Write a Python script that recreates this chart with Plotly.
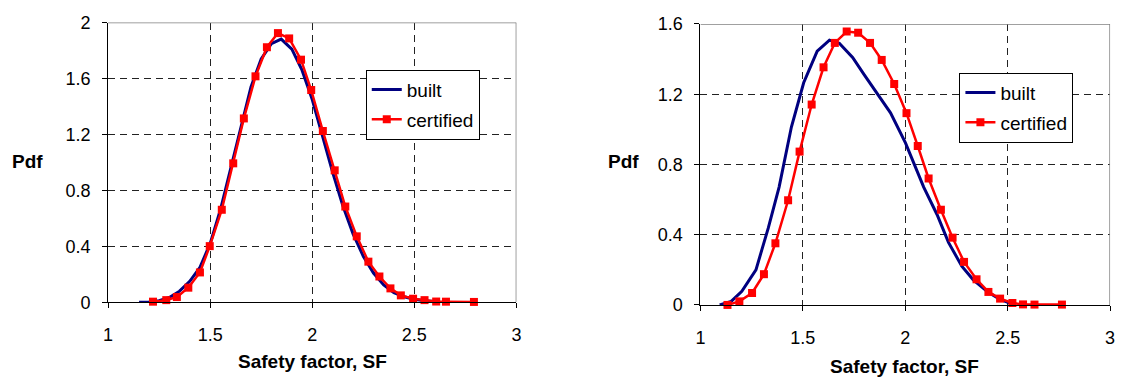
import plotly.graph_objects as go

# ---------------- data ----------------
left_built_x = [1.152, 1.200, 1.250, 1.300, 1.350, 1.400, 1.450, 1.500, 1.550, 1.600,
                1.650, 1.700, 1.750, 1.800, 1.848, 1.900, 1.950, 2.000, 2.050, 2.100,
                2.150, 2.200, 2.250, 2.300, 2.350, 2.400, 2.450, 2.500, 2.550, 2.600]
left_built_y = [0.000, 0.003, 0.012, 0.035, 0.080, 0.150, 0.250, 0.420, 0.660, 0.950,
                1.260, 1.540, 1.740, 1.850, 1.882, 1.810, 1.660, 1.450, 1.190, 0.930,
                0.690, 0.490, 0.330, 0.210, 0.125, 0.070, 0.040, 0.022, 0.012, 0.006]

left_cert_x = [1.220, 1.285, 1.337, 1.393, 1.450, 1.498, 1.557, 1.613, 1.665, 1.722,
               1.778, 1.832, 1.887, 1.945, 1.995, 2.052, 2.110, 2.162, 2.218, 2.275,
               2.329, 2.383, 2.434, 2.494, 2.550, 2.607, 2.655, 2.792]
left_cert_y = [0.005, 0.016, 0.038, 0.105, 0.214, 0.402, 0.662, 0.994, 1.315, 1.616,
               1.824, 1.925, 1.887, 1.735, 1.518, 1.225, 0.944, 0.685, 0.472, 0.291,
               0.185, 0.100, 0.050, 0.026, 0.016, 0.006, 0.005, 0.003]

right_built_x = [1.094, 1.150, 1.202, 1.271, 1.331, 1.384, 1.444, 1.504, 1.570, 1.630,
                 1.678, 1.743, 1.800, 1.859, 1.928, 2.001, 2.090, 2.155, 2.211, 2.276,
                 2.332, 2.405, 2.461, 2.510]
right_built_y = [0.000, 0.020, 0.077, 0.200, 0.437, 0.671, 1.013, 1.265, 1.445, 1.508,
                 1.490, 1.409, 1.310, 1.208, 1.094, 0.923, 0.671, 0.515, 0.356, 0.221,
                 0.143, 0.072, 0.033, 0.010]

right_cert_x = [1.132, 1.190, 1.252, 1.310, 1.366, 1.428, 1.484, 1.543, 1.601, 1.656,
                1.714, 1.770, 1.828, 1.885, 1.946, 2.006, 2.061, 2.114, 2.174, 2.231,
                2.287, 2.348, 2.406, 2.463, 2.523, 2.575, 2.631, 2.765]
right_cert_y = [0.000, 0.020, 0.068, 0.175, 0.351, 0.596, 0.873, 1.141, 1.353, 1.492,
                1.557, 1.550, 1.492, 1.395, 1.258, 1.092, 0.905, 0.720, 0.542, 0.383,
                0.245, 0.146, 0.074, 0.036, 0.011, 0.003, 0.002, 0.002]

x_ticks = [1, 1.5, 2, 2.5, 3]
x_ticktext = ["1", "1.5", "2", "2.5", "3"]
left_y_ticks = [0, 0.4, 0.8, 1.2, 1.6, 2]
left_y_ticktext = ["0", "0.4", "0.8", "1.2", "1.6", "2"]
right_y_ticks = [0, 0.4, 0.8, 1.2, 1.6]
right_y_ticktext = ["0", "0.4", "0.8", "1.2", "1.6"]

series_names = ["built", "certified"]
x_title = "Safety factor, SF"
y_title = "Pdf"

# ---------------- styles ----------------
FONT = "Arial, 'Liberation Sans', sans-serif"
BLUE = "#000080"
RED = "#FF0000"
W, H = 1123, 387

fig = go.Figure()

def add_pair(bx, by, cx, cy, xa, ya, legend):
    fig.add_trace(go.Scatter(x=bx, y=by, mode="lines", name=series_names[0],
                             line=dict(color=BLUE, width=3), xaxis=xa, yaxis=ya,
                             legend=legend, legendgroup=legend + "a", cliponaxis=False))
    fig.add_trace(go.Scatter(x=cx, y=cy, mode="lines+markers", name=series_names[1],
                             line=dict(color=RED, width=2.5),
                             marker=dict(symbol="square", size=8, color=RED),
                             xaxis=xa, yaxis=ya, legend=legend, legendgroup=legend + "b",
                             cliponaxis=False))

add_pair(left_built_x, left_built_y, left_cert_x, left_cert_y, "x", "y", "legend")
add_pair(right_built_x, right_built_y, right_cert_x, right_cert_y, "x2", "y2", "legend2")

def px_x(p):
    return p / W

def px_y(p):
    return 1 - p / H

axis_common = dict(
    showgrid=True, gridcolor="#222222", gridwidth=1, griddash="7px,5px",
    showline=True, linecolor="black", linewidth=1,
    ticks="outside", ticklen=5, tickcolor="black", tickwidth=1,
    zeroline=False, tickfont=dict(family=FONT, size=18, color="black"),
    fixedrange=True,
)

legend_common = dict(xanchor="left", yanchor="top",
                     bgcolor="white", bordercolor="black", borderwidth=1,
                     font=dict(family=FONT, size=19, color="black"),
                     tracegroupgap=2, traceorder="grouped")

fig.update_layout(
    width=W, height=H, autosize=False,
    margin=dict(l=0, r=0, t=0, b=0),
    paper_bgcolor="white", plot_bgcolor="white",
    font=dict(family=FONT, color="black"),
    xaxis=dict(domain=[px_x(104), px_x(516)], range=[1, 3], anchor="y",
               tickvals=x_ticks, ticktext=x_ticktext, ticklabelstandoff=11, **axis_common),
    yaxis=dict(domain=[px_y(308.3), px_y(13.3)], range=[0, 2], anchor="x",
               tickvals=left_y_ticks, ticktext=left_y_ticktext, ticklabelstandoff=8,
               **axis_common),
    xaxis2=dict(domain=[px_x(701.7), px_x(1115)], range=[1, 3], anchor="y2",
                tickvals=x_ticks, ticktext=x_ticktext, ticklabelstandoff=11, **axis_common),
    yaxis2=dict(domain=[px_y(311), px_y(14.7)], range=[0, 1.6], anchor="x2",
                tickvals=right_y_ticks, ticktext=right_y_ticktext, ticklabelstandoff=8,
                **axis_common),
    legend=dict(x=px_x(364), y=px_y(63), **legend_common),
    legend2=dict(x=px_x(963), y=px_y(66), **legend_common),
    showlegend=True,
)

# gray top/right plot-area border
border = dict(color="#808080", width=1.5)
for xr, yr, ytop in (("x", "y", 2), ("x2", "y2", 1.6)):
    fig.add_shape(type="line", xref=xr, yref=yr, x0=1, x1=3, y0=ytop, y1=ytop,
                  line=border, layer="above")
    fig.add_shape(type="line", xref=xr, yref=yr, x0=3, x1=3, y0=0, y1=ytop,
                  line=border, layer="above")

# axis titles as annotations (horizontal "Pdf")
title_font = dict(family=FONT, size=19, color="black")
for xc, yc in ((23, 160), (624, 160)):
    fig.add_annotation(text="<b>" + y_title + "</b>", xref="paper", yref="paper",
                       x=px_x(xc), y=px_y(yc), xanchor="center", yanchor="middle",
                       showarrow=False, font=title_font)
for xc, yc in ((310, 371), (908, 376)):
    fig.add_annotation(text="<b>" + x_title + "</b>", xref="paper", yref="paper",
                       x=px_x(xc), y=px_y(yc), xanchor="center", yanchor="middle",
                       showarrow=False, font=title_font)

fig.write_html("out.html")
